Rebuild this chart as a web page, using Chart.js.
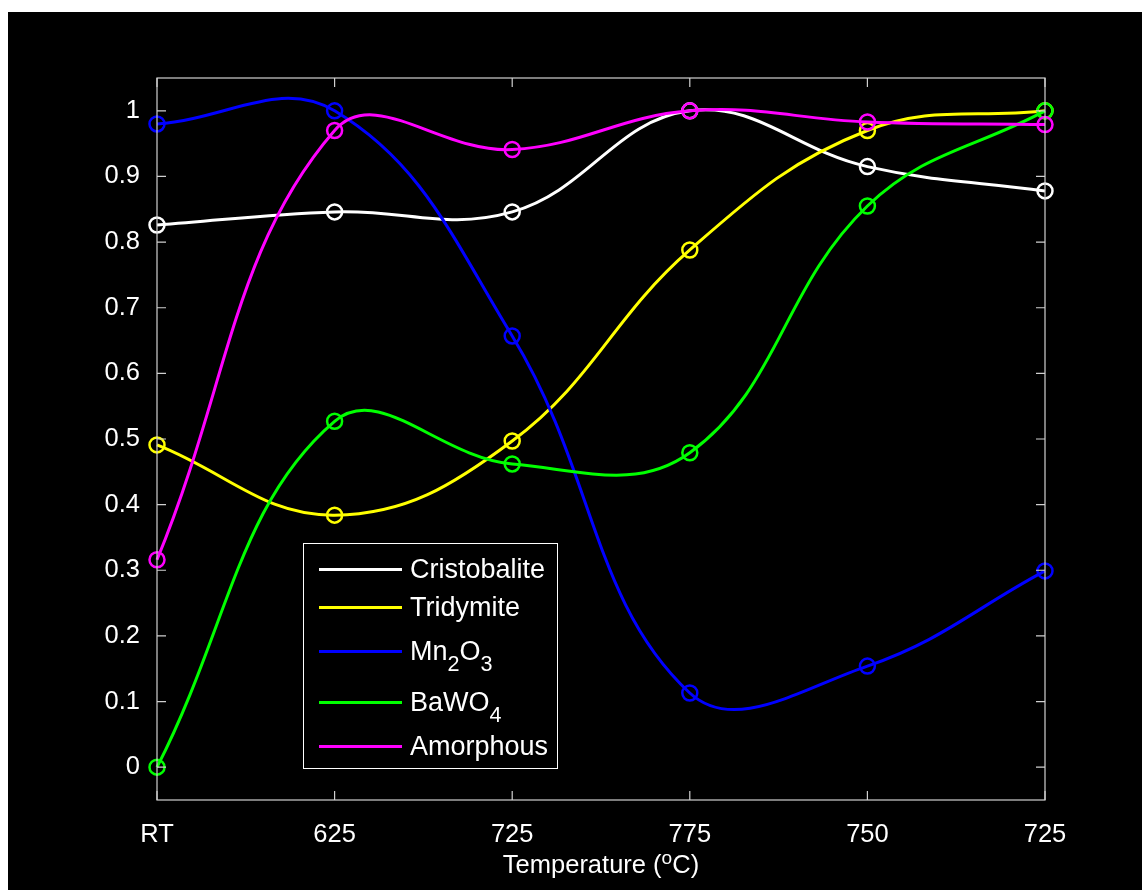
<!DOCTYPE html>
<html>
<head>
<meta charset="utf-8">
<script src="https://cdn.jsdelivr.net/npm/chart.js@4.4.1/dist/chart.umd.min.js"></script>
<style>
  html, body { margin: 0; padding: 0; background: #ffffff; width: 1142px; height: 890px; overflow: hidden; }
  #frame { position: absolute; left: 8px; top: 12px; width: 1134px; height: 878px; background: #000000; }
  #c { position: absolute; left: 0; top: 0; }
  .txt { font-family: 'Liberation Sans', Arial, sans-serif; color: #ffffff; position: absolute; white-space: nowrap; }
  #xtitle { font-size: 25.5px; left: 0; width: 1202px; text-align: center; top: 849px; line-height: 30px; }
  #xtitle sup { font-size: 0.75em; vertical-align: 0.45em; line-height: 0; }
  #legend { position: absolute; left: 303px; top: 543px; width: 253px; height: 224px; border: 1.5px solid #ffffff; }
  .row { position: absolute; left: 0; height: 30px; width: 255px; }
  .sample { position: absolute; left: 15px; width: 83px; height: 3px; top: 13.5px; }
  .lab { left: 106px; top: 0; font-size: 27px; line-height: 30px; }
  .lab sub { font-size: 0.8em; vertical-align: -0.5em; line-height: 0; }
</style>
</head>
<body>
<div id="frame"><canvas id="c" width="1134" height="878"></canvas></div>
<div id="legend"></div>
<div id="xtitle" class="txt">Temperature (<sup>o</sup>C)</div>
<script>
// ---- data ----
const categories = ['RT', '625', '725', '775', '750', '725'];
const seriesNames = ['Cristobalite', 'Tridymite', 'Mn2O3', 'BaWO4', 'Amorphous'];
const seriesLegendHtml = ['Cristobalite', 'Tridymite', 'Mn<sub>2</sub>O<sub>3</sub>', 'BaWO<sub>4</sub>', 'Amorphous'];
const cristobalite = [0.826, 0.846, 0.846, 1.000, 0.915, 0.878];
const tridymite    = [0.491, 0.384, 0.497, 0.788, 0.970, 1.000];
const mn2o3        = [0.980, 1.000, 0.657, 0.113, 0.154, 0.299];
const bawo4        = [0.000, 0.527, 0.462, 0.479, 0.855, 1.000];
const amorphous    = [0.316, 0.970, 0.941, 1.000, 0.983, 0.979];
const yTicks = [0, 0.1, 0.2, 0.3, 0.4, 0.5, 0.6, 0.7, 0.8, 0.9, 1];
const yMin = -0.05, yMax = 1.05;
const colors = ['#ffffff', '#ffff00', '#0000ff', '#00ff00', '#ff00ff'];
const seriesValues = [cristobalite, tridymite, mn2o3, bawo4, amorphous];

// ---- legend (HTML, inside plot) ----
const legendRowsY = [568, 606, 650, 701, 745];
const legend = document.getElementById('legend');
seriesNames.forEach((n, i) => {
  const row = document.createElement('div');
  row.className = 'row';
  row.style.top = (legendRowsY[i] - 543 - 15) + 'px';
  const s = document.createElement('div');
  s.className = 'sample';
  s.style.background = colors[i];
  const t = document.createElement('div');
  t.className = 'txt lab';
  t.innerHTML = seriesLegendHtml[i];
  row.appendChild(s); row.appendChild(t);
  legend.appendChild(row);
});

// ---- box + inward ticks plugin ----
const boxPlugin = {
  id: 'boxTicks',
  afterDraw(chart) {
    const { ctx, chartArea: a } = chart;
    const xs = chart.scales.x, ys = chart.scales.y;
    ctx.save();
    ctx.strokeStyle = '#d0d0d0';
    ctx.lineWidth = 1.2;
    ctx.strokeRect(a.left, a.top, a.right - a.left, a.bottom - a.top);
    const L = 9;
    ctx.beginPath();
    xs.ticks.forEach((t, i) => {
      const x = xs.getPixelForTick(i);
      ctx.moveTo(x, a.bottom); ctx.lineTo(x, a.bottom - L);
      ctx.moveTo(x, a.top); ctx.lineTo(x, a.top + L);
    });
    ys.ticks.forEach((t) => {
      const y = ys.getPixelForValue(t.value);
      ctx.moveTo(a.left, y); ctx.lineTo(a.left + L, y);
      ctx.moveTo(a.right, y); ctx.lineTo(a.right - L, y);
    });
    ctx.stroke();
    ctx.restore();
  }
};

const font = { family: "'Liberation Sans', Arial, sans-serif", size: 25.5 };

new Chart(document.getElementById('c'), {
  type: 'line',
  data: {
    labels: categories,
    datasets: seriesValues.map((vals, i) => ({
      label: seriesNames[i],
      data: vals,
      borderColor: colors[i],
      backgroundColor: 'rgba(0,0,0,0)',
      pointBorderColor: colors[i],
      pointBackgroundColor: 'rgba(0,0,0,0)',
      pointRadius: 7.5,
      pointBorderWidth: 2.5,
      borderWidth: 3,
      tension: 0.4,
      fill: false,
      order: 5 - i
    }))
  },
  options: {
    responsive: false,
    animation: false,
    devicePixelRatio: 1,
    layout: { padding: { top: 66, right: 97, left: 0, bottom: 0 } },
    plugins: { legend: { display: false }, tooltip: { enabled: false } },
    scales: {
      x: {
        type: 'category',
        offset: false,
        grid: { display: false },
        border: { display: false },
        ticks: { color: '#ffffff', font, padding: 12, maxRotation: 0, autoSkip: false },
        afterFit(s) { s.height = 90; }
      },
      y: {
        type: 'linear',
        min: yMin,
        max: yMax,
        grid: { display: false },
        border: { display: false },
        afterBuildTicks(s) { s.ticks = yTicks.map(v => ({ value: v })); },
        ticks: {
          color: '#ffffff', font, padding: 9,
          callback: (v) => String(Math.round(v * 10) / 10)
        },
        afterFit(s) { s.width = 149; }
      }
    }
  },
  plugins: [boxPlugin]
});
</script>
</body>
</html>
